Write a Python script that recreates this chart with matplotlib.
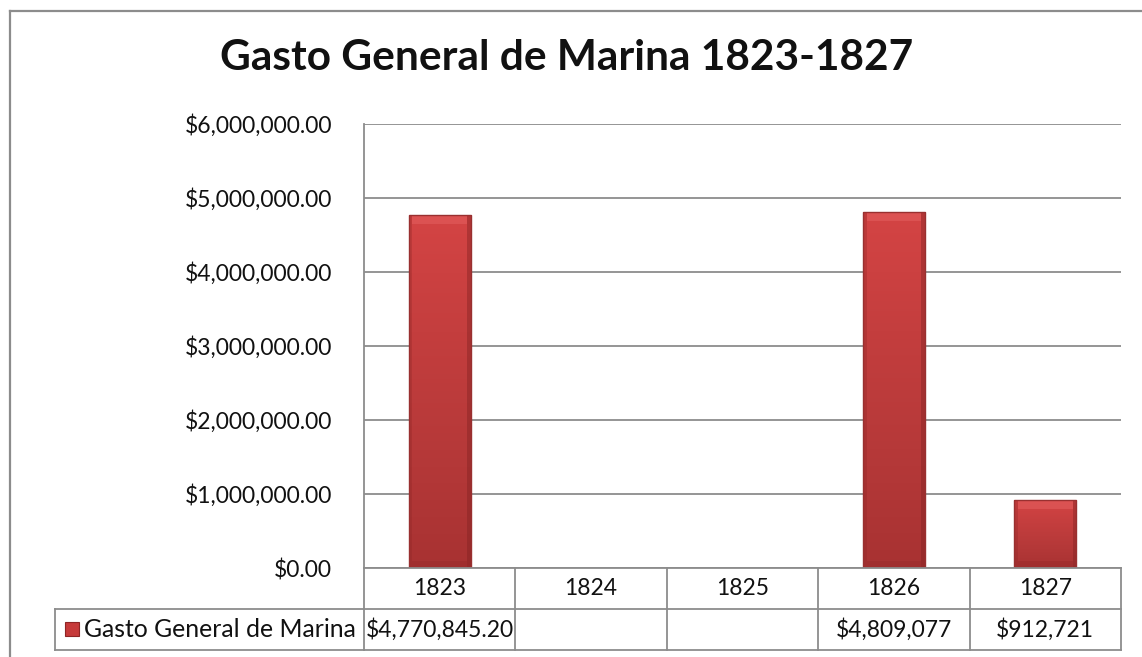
import matplotlib
matplotlib.use("Agg")
import matplotlib.pyplot as plt
import numpy as np
from matplotlib.lines import Line2D
from matplotlib.patches import Rectangle
from matplotlib.ticker import FuncFormatter, MultipleLocator
from matplotlib.colors import LinearSegmentedColormap
import matplotlib.transforms as mtransforms

plt.rcParams['font.family'] = ['Lato', 'DejaVu Sans']

title = "Gasto General de Marina 1823-1827"
series_name = "Gasto General de Marina"
years = ["1823", "1824", "1825", "1826", "1827"]
values = [4770845.20, 0, 0, 4809077, 912721]
value_labels = ["$4,770,845.20", "", "", "$4,809,077", "$912,721"]
y_max = 6000000
y_step = 1000000

W, H = 1142, 657
fig = plt.figure(figsize=(W / 100, H / 100), dpi=100)
fig.patch.set_facecolor("white")

grey = "#8c8c8c"
txt = "#111111"
fs = 16.5

# outer chart border (left and top visible, rest cropped)
fig.add_artist(Line2D([10 / W, 10 / W], [1 - 11 / H, -0.1], transform=fig.transFigure,
                      color=grey, lw=1.6))
fig.add_artist(Line2D([10 / W, 1.1], [1 - 11 / H, 1 - 11 / H], transform=fig.transFigure,
                      color=grey, lw=1.6))

left, right = 364 / W, 1121 / W
top, bottom = 1 - 124 / H, 1 - 568 / H
ax = fig.add_axes([left, bottom, right - left, top - bottom])
ax.set_facecolor("white")

x = np.arange(len(years))
bars = ax.bar(x, values, width=0.41, color="#BE3A3A", edgecolor="none", zorder=3)

grad = np.linspace(0, 1, 256).reshape(-1, 1)
cmap = LinearSegmentedColormap.from_list("redgrad", ["#A83232", "#B63939", "#C43E3E", "#D44444"])
for b in bars:
    if b.get_height() <= 0:
        continue
    x0, w, h = b.get_x(), b.get_width(), b.get_height()
    im = ax.imshow(grad, extent=[x0, x0 + w, 0, h], origin="lower", cmap=cmap,
                   aspect="auto", zorder=3.5)
    im.set_clip_path(b)
    # side bevels
    sw = w * 0.06
    ax.add_patch(Rectangle((x0, 0), sw, h, facecolor="#8E2525", alpha=0.3, edgecolor="none", zorder=4))
    ax.add_patch(Rectangle((x0 + w - sw, 0), sw, h, facecolor="#7E2020", alpha=0.4, edgecolor="none", zorder=4))
    # top bevel
    th = 0.02 * y_max
    ax.add_patch(Rectangle((x0 + sw, h - th), w - 2 * sw, th, facecolor="#E46060",
                           edgecolor="none", zorder=4, alpha=0.55))
    # bottom bevel
    ax.add_patch(Rectangle((x0 + sw, 0), w - 2 * sw, th * 0.8, facecolor="#8E2525",
                           edgecolor="none", zorder=4, alpha=0.3))
    ax.add_patch(Rectangle((x0, 0), w, h, fill=False, edgecolor="#993030", lw=1.0, zorder=4.5))

ax.set_xlim(-0.5, len(years) - 0.5)
ax.set_ylim(0, y_max)
ax.yaxis.set_major_locator(MultipleLocator(y_step))
ax.yaxis.set_major_formatter(FuncFormatter(lambda v, p: "${:,.2f}".format(v)))
ax.tick_params(axis="y", length=0, pad=23, labelsize=fs, labelcolor=txt)
ax.set_xticks([])
ax.grid(axis="y", color=grey, lw=1.3, zorder=1)
for s in ["top", "right", "bottom"]:
    ax.spines[s].set_visible(False)
ax.spines["left"].set_color(grey)
ax.spines["left"].set_linewidth(1.3)

# data table below axes
trans = mtransforms.blended_transform_factory(ax.transData, fig.transFigure)
row1_top = 1 - 568 / H
row1_bot = 1 - 609 / H
row2_bot = 1 - 650 / H
xl, xr = -0.5, len(years) - 0.5
lw = 1.3
for yy in [row1_top, row1_bot, row2_bot]:
    fig.add_artist(Line2D([xl, xr], [yy, yy], transform=trans, color=grey, lw=lw))
for i in range(len(years) + 1):
    fig.add_artist(Line2D([xl + i, xl + i], [row1_top, row2_bot], transform=trans, color=grey, lw=lw))
for i, (yr, lab) in enumerate(zip(years, value_labels)):
    fig.text(x[i], (row1_top + row1_bot) / 2, yr, transform=trans, ha="center", va="center",
             fontsize=fs, color=txt)
    if lab:
        fig.text(x[i], (row1_bot + row2_bot) / 2, lab, transform=trans, ha="center", va="center",
                 fontsize=fs, color=txt)

# legend cell
lx0 = 55 / W
fig.add_artist(Line2D([lx0, left], [row1_bot, row1_bot], transform=fig.transFigure, color=grey, lw=lw))
fig.add_artist(Line2D([lx0, left], [row2_bot, row2_bot], transform=fig.transFigure, color=grey, lw=lw))
fig.add_artist(Line2D([lx0, lx0], [row1_bot, row2_bot], transform=fig.transFigure, color=grey, lw=lw))
fig.add_artist(Rectangle((65 / W, 1 - 636 / H), 14 / W, 14 / H, transform=fig.transFigure,
                         facecolor="#C63A3A", edgecolor="#8E2525", lw=0.8))
fig.text(84 / W, (row1_bot + row2_bot) / 2, series_name, ha="left", va="center",
         fontsize=17.8, color=txt)

fig.text(567 / W, 1 - 58 / H, title, ha="center", va="center", fontsize=30.5,
         fontweight="bold", color=txt)

fig.savefig("out.png", dpi=100, facecolor="white")
